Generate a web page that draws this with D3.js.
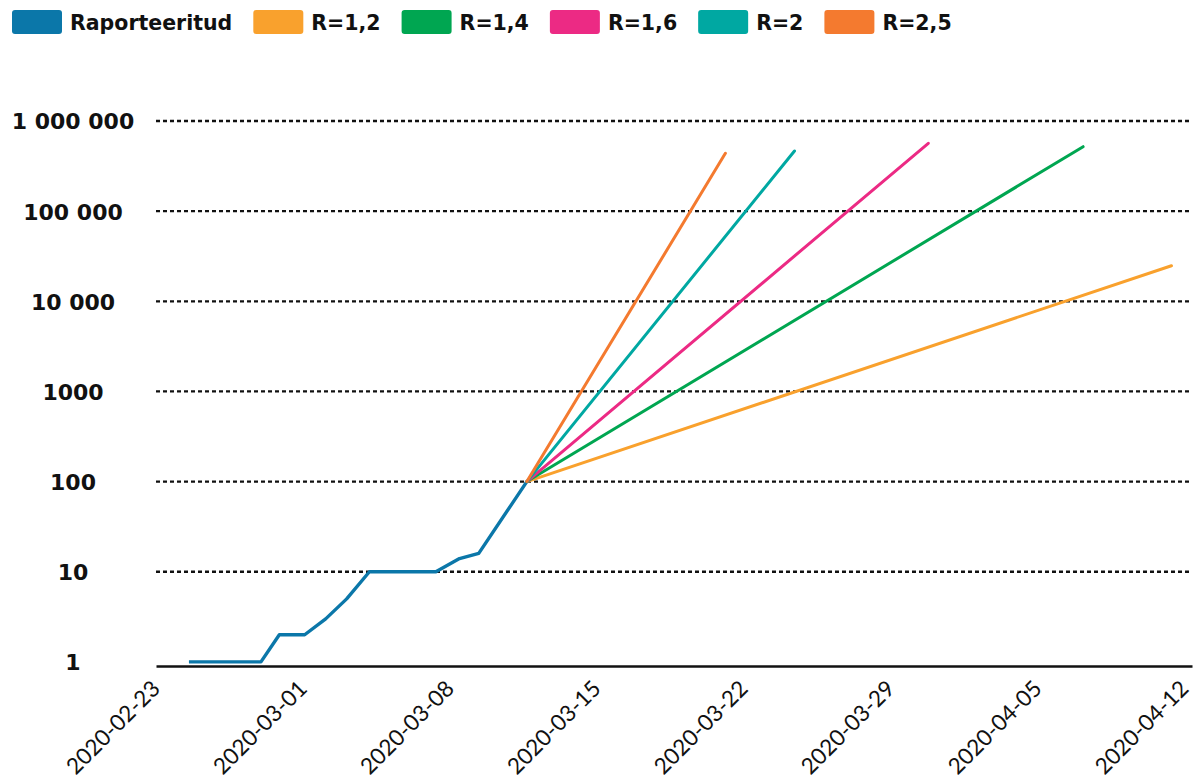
<!DOCTYPE html>
<html><head><meta charset="utf-8">
<script src="https://cdn.jsdelivr.net/npm/d3@7"></script>
<style>
body{margin:0;background:#fff;}
svg{display:block;}
</style></head>
<body><svg id="chart" width="1194" height="783"></svg>
<script>
// ---- data ----
const seriesNames = ["Raporteeritud", "R=1,2", "R=1,4", "R=1,6", "R=2", "R=2,5"];
const seriesColors = ["#0b77a9", "#f9a12d", "#00a651", "#ec2a84", "#00a8a2", "#f47a2f"];

const reportedDates = ["2020-02-24T13:40", "2020-02-28T00:00", "2020-02-28T21:00", "2020-03-01T02:00",
  "2020-03-02T02:00", "2020-03-03T02:00", "2020-03-04T04:00", "2020-03-07T08:00",
  "2020-03-08T11:00", "2020-03-09T09:00", "2020-03-11T16:00"];
const reportedValues = [1, 1, 2, 2, 3, 5, 10, 10, 14, 16, 100];

const scenarioStartDate = "2020-03-11T16:00";
const scenarioStartValue = 100;
const scenarioNames = ["R=1,2", "R=1,4", "R=1,6", "R=2", "R=2,5"];
const scenarioEndDates = ["2020-04-11T09:00", "2020-04-07T04:00", "2020-03-30T19:00", "2020-03-24T10:00", "2020-03-21T03:00"];
const scenarioEndValues = [24800, 519000, 566000, 465000, 438000];

const xTickLabels = ["2020-02-23", "2020-03-01", "2020-03-08", "2020-03-15", "2020-03-22", "2020-03-29", "2020-04-05", "2020-04-12"];
const yTickValues = [1, 10, 100, 1000, 10000, 100000, 1000000];
const yTickLabels = ["1", "10", "100", "1000", "10 000", "100 000", "1 000 000"];

// ---- chart ----
const parseT = d3.timeParse("%Y-%m-%dT%H:%M");
const parseD = d3.timeParse("%Y-%m-%d");
const svg = d3.select("#chart");
const colorOf = d3.scaleOrdinal().domain(seriesNames).range(seriesColors);

const x = d3.scaleTime()
  .domain([parseD("2020-02-23"), parseT("2020-04-12T08:30")])
  .range([156, 1192]);
const y = d3.scaleLog()
  .domain([0.9, 1000000])
  .range([666, 121]);

// gridlines
const grid = svg.append("g");
grid.selectAll("line").data(yTickValues.filter(v => v > 1)).join("line")
  .attr("x1", x.range()[0]).attr("x2", x.range()[1])
  .attr("y1", d => y(d)).attr("y2", d => y(d))
  .attr("stroke", "#111").attr("stroke-width", 2.3)
  .attr("stroke-dasharray", "4,3");

// y labels
const yAxis = d3.axisLeft(y).tickValues(yTickValues)
  .tickFormat((d, i) => yTickLabels[i]).tickSize(0);
const gy = svg.append("g").attr("transform", "translate(73,0)").call(yAxis);
gy.select(".domain").remove();
gy.selectAll("text")
  .attr("x", 0).attr("dy", "0.36em")
  .attr("text-anchor", "middle")
  .style("font-family", "'DejaVu Sans', sans-serif")
  .style("font-weight", "bold").style("font-size", "22px").style("fill", "#111");

// x axis
const xAxis = d3.axisBottom(x).tickValues(xTickLabels.map(parseD))
  .tickFormat(d3.timeFormat("%Y-%m-%d")).tickSize(0);
const gx = svg.append("g").attr("transform", "translate(0,666)").call(xAxis);
gx.select(".domain").attr("stroke", "#111").attr("stroke-width", 2.4);
gx.selectAll("text")
  .attr("y", 0).attr("dy", 0)
  .attr("text-anchor", "end")
  .attr("transform", "translate(5,24) rotate(-45)")
  .style("font-family", "Lato, sans-serif")
  .style("font-size", "22.5px").style("fill", "#111");

// lines
const line = d3.line().x(d => x(d.date)).y(d => y(d.value));
const reported = reportedDates.map((d, i) => ({date: parseT(d), value: reportedValues[i]}));
svg.append("path").datum(reported)
  .attr("d", line).attr("fill", "none")
  .attr("stroke", colorOf("Raporteeritud")).attr("stroke-width", 3.4)
  .attr("stroke-linejoin", "round");

scenarioNames.forEach((name, i) => {
  const pts = [
    {date: parseT(scenarioStartDate), value: scenarioStartValue},
    {date: parseT(scenarioEndDates[i]), value: scenarioEndValues[i]}
  ];
  svg.append("path").datum(pts)
    .attr("d", line).attr("fill", "none")
    .attr("stroke", colorOf(name)).attr("stroke-width", 3)
    .attr("stroke-linecap", "round");
});

// legend
const legend = svg.append("g");
let lx = 12;
seriesNames.forEach(name => {
  const g = legend.append("g").attr("transform", `translate(${lx},0)`);
  g.append("rect").attr("x", 0).attr("y", 10).attr("width", 50).attr("height", 24)
    .attr("rx", 3).attr("fill", colorOf(name));
  const t = g.append("text").attr("x", 58).attr("y", 30).text(name)
    .style("font-family", "'DejaVu Sans', sans-serif")
    .style("font-weight", "bold").style("font-size", "20.5px").style("fill", "#111");
  lx += 58 + t.node().getComputedTextLength() + 21;
});
</script>
</body></html>
